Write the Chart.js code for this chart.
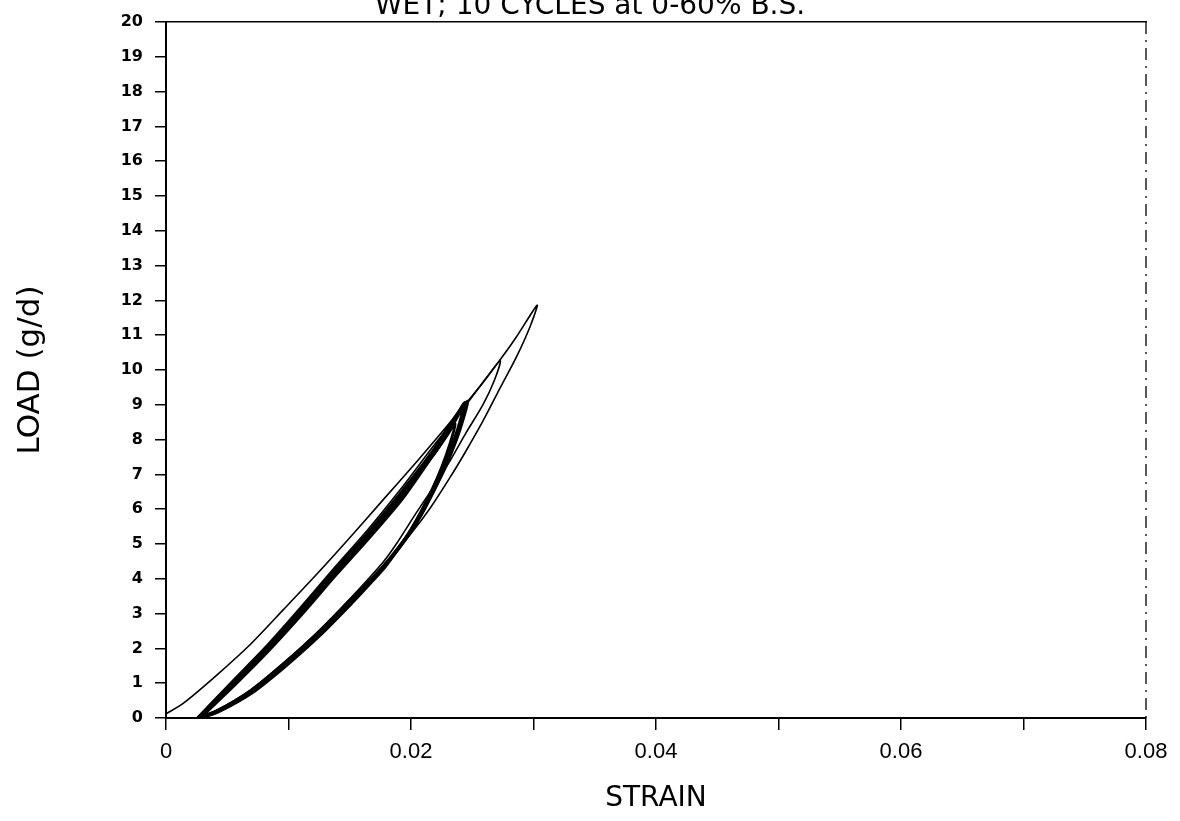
<!DOCTYPE html>
<html>
<head>
<meta charset="utf-8">
<script src="https://cdn.jsdelivr.net/npm/chart.js@4/dist/chart.umd.min.js"></script>
<style>
  html, body { margin: 0; padding: 0; background: #fff; overflow: hidden; }
  #wrap { position: relative; width: 1180px; height: 821px; overflow: hidden; }
  #myChart { position: absolute; left: 0; top: -8px; }
</style>
</head>
<body>
<div id="wrap"><canvas id="myChart" width="1180" height="829"></canvas></div>
<script>
// tick labels
var xTickLabels = ["0", "0.02", "0.04", "0.06", "0.08"];
var yTickLabels = ["0", "1", "2", "3", "4", "5", "6", "7", "8", "9", "10",
  "11", "12", "13", "14", "15", "16", "17", "18", "19", "20"];

// cycle 1 (first loading / unloading loop, thin)
var cycle1Strain = [0, 0.0014, 0.0041, 0.0069, 0.0096, 0.0123, 0.0150, 0.0177, 0.0205, 0.0232, 0.0259, 0.0275, 0.0286, 0.0303,
  0.0297, 0.0286, 0.0273, 0.0259, 0.0245, 0.0232, 0.0216, 0.0200, 0.0177, 0.0150, 0.0123, 0.0096, 0.0069, 0.0041, 0.0025];
var cycle1Load = [0.12, 0.42, 1.22, 2.12, 3.12, 4.13, 5.18, 6.26, 7.38, 8.50, 9.65, 10.40, 10.95, 11.86,
  11.23, 10.37, 9.50, 8.55, 7.68, 6.92, 6.05, 5.30, 4.36, 3.40, 2.43, 1.57, 0.79, 0.20, 0.0];

// cycle 2 (thin)
var cycle2Strain = [0.0025, 0.0055, 0.0082, 0.0109, 0.0137, 0.0164, 0.0191, 0.0218, 0.0245, 0.0262, 0.0273,
  0.0268, 0.0259, 0.0245, 0.0232, 0.0218, 0.0204, 0.0188, 0.0177, 0.0150, 0.0123, 0.0096, 0.0069, 0.0041, 0.0026];
var cycle2Load = [0.0, 1.10, 2.08, 3.15, 4.30, 5.38, 6.55, 7.80, 9.00, 9.80, 10.27,
  9.70, 9.02, 8.20, 7.40, 6.62, 5.88, 5.00, 4.47, 3.42, 2.45, 1.59, 0.81, 0.21, 0.0];

// cycle 3
var cycle3Strain = [0.0026, 0.0055, 0.0082, 0.0109, 0.0137, 0.0164, 0.0191, 0.0218, 0.0232, 0.0246,
  0.0241, 0.0235, 0.0227, 0.0218, 0.0210, 0.0201, 0.0190, 0.0179, 0.0165, 0.0150, 0.0123, 0.0096, 0.0069, 0.0041, 0.0026];
var cycle3Load = [0.0, 1.06, 2.02, 3.08, 4.23, 5.29, 6.44, 7.68, 8.45, 9.10,
  8.40, 7.80, 7.12, 6.48, 5.94, 5.42, 4.88, 4.40, 3.88, 3.37, 2.41, 1.55, 0.78, 0.20, 0.0];

// cycles 4-9 (overlapping, drawn as the thick band)
var cycle4Strain = [0.0027, 0.0056, 0.0083, 0.0110, 0.0138, 0.0165, 0.0192, 0.0219, 0.0233, 0.0244,
  0.0239, 0.0233, 0.0225, 0.0216, 0.0208, 0.0199, 0.0188, 0.0177, 0.0164, 0.0150, 0.0124, 0.0097, 0.0070, 0.0042, 0.0027];
var cycle4Load = [0.0, 1.02, 1.98, 3.03, 4.18, 5.24, 6.38, 7.62, 8.38, 9.05,
  8.35, 7.75, 7.05, 6.40, 5.85, 5.33, 4.80, 4.33, 3.84, 3.35, 2.38, 1.53, 0.76, 0.19, 0.0];

// cycle 10
var cycle10Strain = [0.0028, 0.0057, 0.0084, 0.0111, 0.0139, 0.0166, 0.0193, 0.0216, 0.0228, 0.0236,
  0.0232, 0.0225, 0.0217, 0.0208, 0.0198, 0.0188, 0.0178, 0.0165, 0.0152, 0.0125, 0.0098, 0.0071, 0.0043, 0.0028];
var cycle10Load = [0.0, 0.98, 1.94, 2.98, 4.12, 5.18, 6.30, 7.45, 8.05, 8.45,
  7.90, 7.20, 6.55, 5.92, 5.30, 4.78, 4.30, 3.80, 3.31, 2.35, 1.50, 0.74, 0.18, 0.0];

function pts(xs, ys) {
  return xs.map(function (x, i) { return { x: x, y: ys[i] }; });
}

function lineSet(label, xs, ys, w) {
  return {
    label: label,
    data: pts(xs, ys),
    showLine: true,
    borderColor: "#000",
    backgroundColor: "#000",
    borderWidth: w,
    pointRadius: 0,
    tension: 0.25,
    fill: false,
  };
}

// dashed right-hand frame line
var rightFrame = {
  id: "rightFrame",
  afterDraw: function (chart) {
    var a = chart.chartArea;
    var c = chart.ctx;
    c.save();
    c.strokeStyle = "#000";
    c.lineWidth = 1.3;
    c.setLineDash([12, 6, 2, 6]);
    c.beginPath();
    c.moveTo(a.right, a.top);
    c.lineTo(a.right, a.bottom);
    c.stroke();
    c.restore();
  },
};

var ctx = document.getElementById("myChart").getContext("2d");
var myChart = new Chart(ctx, {
  type: "scatter",
  data: {
    datasets: [
      lineSet("Cycle 1", cycle1Strain, cycle1Load, 1.6),
      lineSet("Cycle 2", cycle2Strain, cycle2Load, 1.6),
      lineSet("Cycle 3", cycle3Strain, cycle3Load, 3),
      lineSet("Cycles 4-9", cycle4Strain, cycle4Load, 4),
      lineSet("Cycle 10", cycle10Strain, cycle10Load, 3),
    ],
  },
  plugins: [rightFrame],
  options: {
    responsive: false,
    animation: false,
    devicePixelRatio: 1,
    layout: { padding: 0 },
    plugins: {
      legend: { display: false },
      tooltip: { enabled: false },
      title: {
        display: true,
        text: "WET; 10 CYCLES at 0-60% B.S.",
        color: "#000",
        font: { family: "DejaVu Sans", size: 28, weight: "normal", lineHeight: 1.0 },
        padding: { top: 1, bottom: 1 },
      },
    },
    scales: {
      x: {
        type: "linear",
        position: "bottom",
        min: 0,
        max: 0.08,
        afterFit: function (s) { s.height = 103; },
        ticks: {
          stepSize: 0.01,
          autoSkip: false,
          maxRotation: 0,
          color: "#000",
          padding: 9,
          font: { family: "Liberation Sans", size: 22 },
          callback: function (v) {
            var i = Math.round(v / 0.01);
            return i % 2 === 0 ? xTickLabels[i / 2] : "";
          },
        },
        grid: { drawOnChartArea: false, drawTicks: true, tickLength: 12, color: "#000", lineWidth: 1.5 },
        border: { color: "#000", width: 2 },
        title: {
          display: true,
          text: "STRAIN",
          color: "#000",
          font: { family: "DejaVu Sans", size: 28 },
          padding: { top: 0, bottom: 5 },
        },
      },
      y: {
        type: "linear",
        position: "left",
        min: 0,
        max: 20,
        afterFit: function (s) { s.width = 166; },
        ticks: {
          stepSize: 1,
          autoSkip: false,
          color: "#000",
          padding: 12,
          font: { family: "DejaVu Sans", size: 16, weight: "bold" },
          callback: function (v) { return yTickLabels[Math.round(v)]; },
        },
        grid: { drawOnChartArea: false, drawTicks: true, tickLength: 11, color: "#000", lineWidth: 1.5 },
        border: { color: "#000", width: 2 },
        title: {
          display: true,
          text: "LOAD (g/d)",
          color: "#000",
          font: { family: "DejaVu Sans", size: 31 },
          padding: { top: 12, bottom: 0 },
        },
      },
      x2: {
        type: "linear",
        position: "top",
        min: 0,
        max: 0.08,
        afterFit: function (s) { s.height = 0; },
        ticks: { display: false },
        grid: { display: false },
        border: { color: "#000", width: 1.5 },
      },
      y2: {
        type: "linear",
        position: "right",
        min: 0,
        max: 20,
        afterFit: function (s) { s.width = 34; },
        ticks: { display: false },
        grid: { display: false },
        border: { display: false },
      },
    },
  },
});
</script>
</body>
</html>
